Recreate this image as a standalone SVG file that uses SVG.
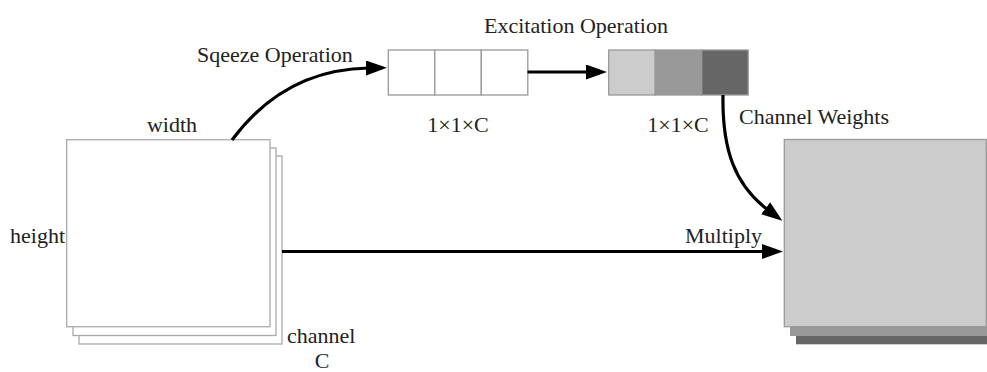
<svg xmlns="http://www.w3.org/2000/svg" width="987" height="372" viewBox="0 0 987 372">
  <style>
    text { font-family: "Liberation Serif", "Times New Roman", serif; font-size: 22px; fill: #222; }
    .sheet { fill: #fff; stroke: #aaa; stroke-width: 1.3; }
    .cell { stroke: #999; stroke-width: 1.3; }
    .wire { fill: none; stroke: #000; stroke-width: 3.2; marker-end: url(#head); }
  </style>
  <defs>
    <marker id="head" markerUnits="userSpaceOnUse" markerWidth="22" markerHeight="16" refX="3" refY="7.5" orient="auto">
      <path d="M0,0 L21,7.5 L0,15 z" fill="#000"/>
    </marker>
  </defs>

  <rect width="987" height="372" fill="#fff"/>

  <!-- input feature map: stacked channels -->
  <g id="input-map">
    <rect class="sheet" x="79" y="156" width="203" height="188"/>
    <rect class="sheet" x="73" y="148" width="203" height="187.5"/>
    <rect class="sheet" x="66.7" y="139.7" width="203.3" height="187"/>
    <text x="172" y="132" text-anchor="middle">width</text>
    <text x="10" y="243">height</text>
    <text x="287" y="343">channel</text>
    <text x="322" y="367.5" text-anchor="middle">C</text>
  </g>

  <!-- squeezed vector -->
  <g id="squeeze-vector">
    <rect class="cell" x="388.3" y="50" width="46.5" height="45" fill="#fff"/>
    <rect class="cell" x="434.8" y="50" width="46.5" height="45" fill="#fff"/>
    <rect class="cell" x="481.3" y="50" width="46.5" height="45" fill="#fff"/>
    <text x="458" y="132" text-anchor="middle">1×1×C</text>
  </g>

  <!-- excitation vector -->
  <g id="excitation-vector">
    <rect class="cell" x="608.7" y="50" width="46.5" height="45" fill="#cccccc"/>
    <rect class="cell" x="655.2" y="50" width="46.5" height="45" fill="#999999"/>
    <rect class="cell" x="701.7" y="50" width="46.5" height="45" fill="#666666"/>
    <text x="576" y="33" text-anchor="middle">Excitation Operation</text>
    <text x="678" y="132" text-anchor="middle">1×1×C</text>
  </g>

  <!-- reweighted output map -->
  <g id="output-map">
    <rect x="796" y="152" width="200" height="192.3" fill="#666666"/>
    <rect x="790" y="146" width="200" height="190" fill="#999999"/>
    <rect x="784.3" y="139.5" width="202" height="187.2" fill="#cccccc" stroke="#999" stroke-width="1.3"/>
  </g>

  <!-- connectors -->
  <g id="connectors">
    <path class="wire" d="M232,140 C258,105 300,69 369,68"/>
    <path class="wire" d="M527.5,72 L589,72"/>
    <path class="wire" d="M723,95 C722,150 735,185 768,210"/>
    <path class="wire" d="M282,251.5 L765,251.5"/>
    <text x="197" y="62">Sqeeze Operation</text>
    <text x="739" y="124">Channel Weights</text>
    <text x="685" y="243">Multiply</text>
  </g>
</svg>
